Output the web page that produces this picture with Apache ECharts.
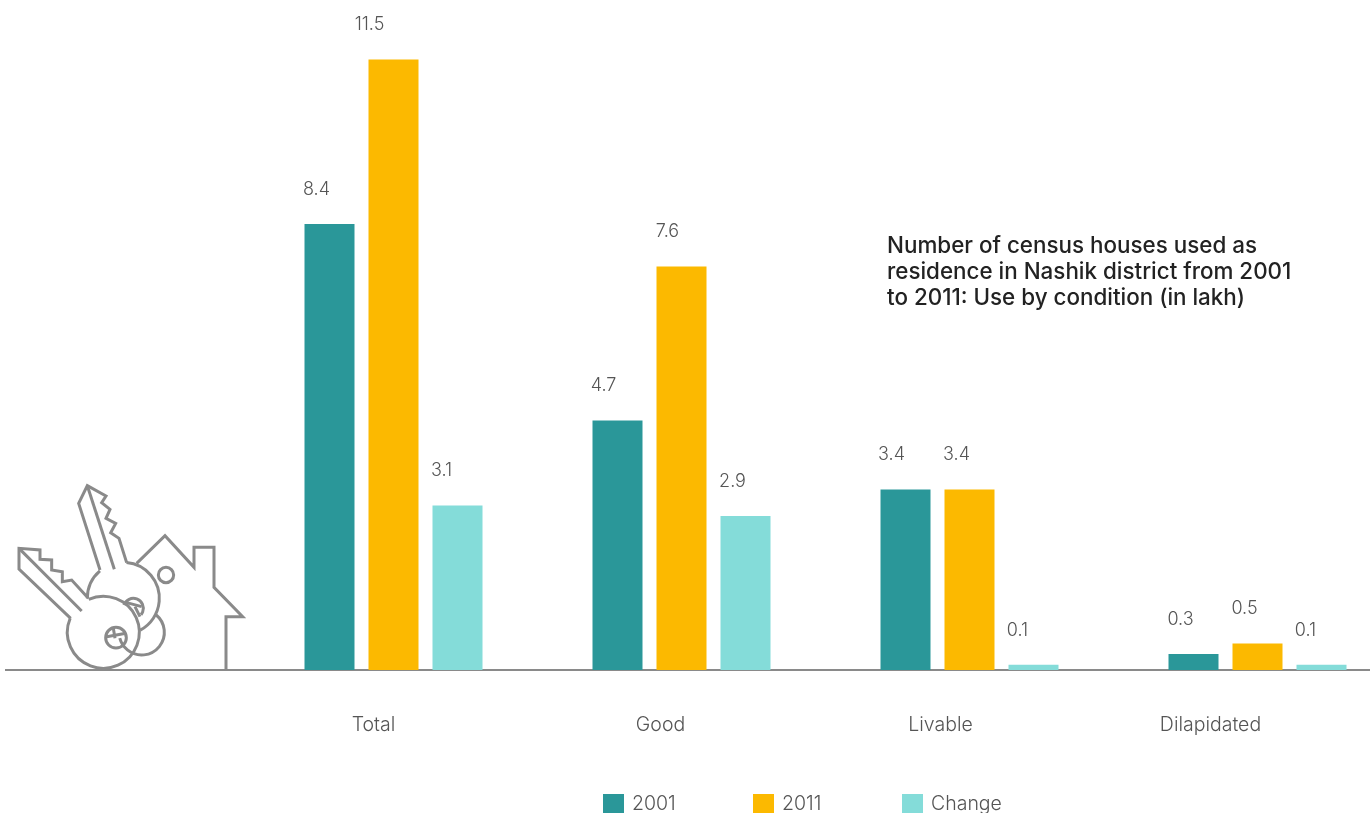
<!DOCTYPE html>
<html><head><meta charset="utf-8">
<style>html,body{margin:0;padding:0;background:#fff;overflow:hidden}#c{width:1370px;height:813px}</style>
<script src="https://cdn.jsdelivr.net/npm/echarts@6/dist/echarts.min.js"></script>
</head><body><div id="c"></div>
<script>
const categories = ['Total','Good','Livable','Dilapidated'];
const values2001 = [8.4,4.7,3.4,0.3];
const values2011 = [11.5,7.6,3.4,0.5];
const valuesChange = [3.1,2.9,0.1,0.1];
const legendNames = ['2001','2011','Change'];
const titleText = 'Number of census houses used as\nresidence in Nashik district from 2001\nto 2011: Use by condition (in lakh)';
const FONT = 'Inter';
const TXT = '#555555';
const GREY = '#8a8a8a';
// horizontal nudges of value labels and category labels as in the source artwork
const offs2001 = [-13,-14,-14,-13];
const offs2011 = [-24,-14,-13,-13];
const offsChange = [-16,-13,-16,-16];
const catOffs = [-20,-21,-29,-47];
const legendLefts = [603,753,902];

const z = (x,y)=>[x/3, 470+y/3];
const poly = pts => ({type:'polyline',shape:{points:pts.map(p=>z(p[0],p[1]))},style:{stroke:GREY,lineWidth:3,fill:null,lineJoin:'miter'},silent:true});
const arc = (cx,cy,r,a,b) => { const c=z(cx,cy); return {type:'arc',shape:{cx:c[0],cy:c[1],r:r/3,startAngle:a*Math.PI/180,endAngle:b*Math.PI/180,clockwise:true},style:{stroke:GREY,lineWidth:3,fill:null},silent:true}; };
const icon = [
  {type:'line',shape:{x1:5,y1:670,x2:250,y2:670},style:{stroke:GREY,lineWidth:2},silent:true},
  poly([[410,280],[495,197],[582,292],[582,232],[642,232],[642,352],[728,440],[678,440],[678,598]]),
  arc(498,315,23,0,360),
  // upper key
  poly([[380,278],[357,205],[332,188],[347,160],[318,145],[330,118],[305,98],[318,78],[262,47],[236,100],[300,300]]),
  poly([[262,47],[343,298]]),
  arc(370,385,108,-85,62),
  arc(370,385,108,180,229.5),
  arc(400,415,30,200,400),
  poly([[380,398],[425,410]]),
  poly([[405,410],[420,440]]),
  arc(425,487,68,-51,165),
  // lower key
  poly([[265,385],[215,330],[187,335],[187,305],[155,300],[155,270],[120,268],[120,240],[57,235],[57,297],[212,445]]),
  poly([[57,235],[245,423]]),
  arc(310,487,108,-114,203),
  arc(348,503,31,0,360),
  poly([[340,475],[345,505]]),
  poly([[320,500],[378,490]])
];

const mk = (name,vals,offs,color)=>({
  name,type:'bar',barWidth:50,barGap:'28%',
  itemStyle:{color},
  data:vals.map((v,i)=>({value:v,label:{offset:[offs[i],0]}})),
  label:{show:true,position:'top',distance:25.5,fontFamily:FONT,fontWeight:300,fontSize:18,color:TXT,formatter:p=>p.value.toFixed(1)}
});
const chart = echarts.init(document.getElementById('c'),null,{renderer:'canvas'});
const rich = {};
catOffs.forEach((o,i)=>{ rich['c'+i]={fontFamily:FONT,fontWeight:300,fontSize:19.5,color:TXT,padding:[0,-2*o,0,0]}; });
chart.setOption({
  animation:false,backgroundColor:'#fff',
  title:{text:titleText,left:887,top:233,padding:0,textStyle:{fontFamily:FONT,fontWeight:500,fontSize:22.4,lineHeight:26,color:'#222222'}},
  grid:{left:249.5,top:33,width:1152,height:637,outerBoundsMode:'none'},
  legend:legendNames.map((n,i)=>({left:legendLefts[i],top:794,padding:0,itemWidth:21,itemHeight:20,icon:'rect',
    textStyle:{fontFamily:FONT,fontWeight:300,fontSize:19.5,color:TXT,padding:[0,0,0,3]},
    data:[n]})),
  xAxis:{type:'category',data:categories,axisTick:{show:false},
    axisLine:{lineStyle:{color:GREY,width:2}},
    axisLabel:{margin:45,formatter:(v,i)=>`{c${i}|${v}}`,rich}},
  yAxis:{type:'value',min:0,max:12,show:false},
  series:[mk('2001',values2001,offs2001,'#2a9799'),mk('2011',values2011,offs2011,'#fcb900'),mk('Change',valuesChange,offsChange,'#84dcd9')],
  graphic:icon
});
</script></body></html>
